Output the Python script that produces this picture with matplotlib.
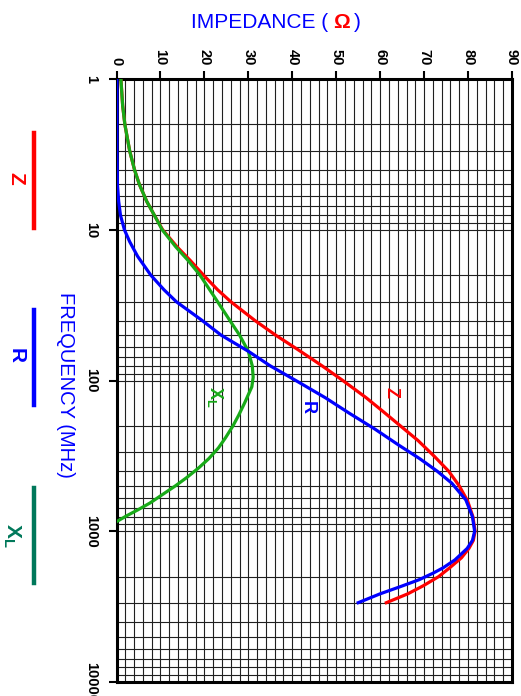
import matplotlib
matplotlib.use('Agg')
import matplotlib.pyplot as plt
from matplotlib.lines import Line2D
from matplotlib.ticker import FixedLocator, LogLocator, NullFormatter, MultipleLocator
from matplotlib.offsetbox import TextArea, HPacker, AnchoredOffsetbox

plt.rcParams['font.family'] = ['Liberation Sans', 'DejaVu Sans']
plt.rcParams['mathtext.fontset'] = 'custom'
plt.rcParams['mathtext.rm'] = 'Liberation Sans'
plt.rcParams['mathtext.bf'] = 'Liberation Sans:bold'

# frequency (MHz) / impedance (ohm)
freq_z = [1, 1.5, 2, 3, 4, 5, 6.5, 8, 10, 13, 16, 20, 25, 30, 40, 50, 63, 80, 100,
          130, 160, 200, 250, 320, 400, 500, 630, 800, 1000, 1150, 1300, 1500, 1750,
          2000, 2300, 2600, 2978]
z_vals = [1.0, 1.4, 1.9, 3.0, 4.1, 5.2, 6.9, 8.6, 10.5, 13.8, 16.8, 19.8, 23.0, 26.0,
          31.5, 36.2, 41.5, 46.8, 51.5, 56.8, 60.6, 64.6, 68.6, 72.4, 75.6, 78.0, 79.9,
          81.1, 81.6, 81.2, 80.2, 78.5, 75.8, 73.3, 69.8, 66.3, 61.4]

freq_r = [1, 3, 5, 6.5, 8, 10, 12, 15, 20, 25, 30, 40, 50, 64, 80, 100, 130, 165, 210,
          268, 330, 400, 480, 620, 800, 1000, 1150, 1300, 1550, 1750, 1900, 2100, 2330,
          2600, 2978]
r_vals = [0.1, 0.1, 0.2, 0.5, 0.9, 1.8, 3.0, 4.8, 7.8, 10.8, 13.6, 19.5, 23.8, 30.0,
          35.0, 40.8, 47.5, 53.0, 58.8, 64.2, 69.0, 73.0, 76.3, 79.5, 81.0, 81.5, 81.0,
          79.8, 77.0, 74.3, 72.0, 68.8, 64.6, 60.0, 55.0]

freq_x = [1, 1.5, 2, 3, 4, 5, 6.5, 8, 10, 13, 16, 20, 25, 30, 40, 50, 64, 80, 95, 110,
          140, 170, 200, 240, 280, 330, 380, 440, 500, 570, 650, 720, 790, 864]
x_vals = [1.0, 1.4, 1.9, 3.0, 4.1, 5.2, 6.9, 8.6, 10.4, 13.5, 16.3, 19.0, 21.2, 23.0,
          25.8, 28.0, 30.0, 30.9, 31.1, 30.8, 29.2, 27.8, 26.5, 24.8, 23.2, 21.0, 18.7,
          16.0, 13.4, 10.5, 7.6, 4.9, 2.3, 0.0]

freq_ticks = [1, 10, 100, 1000, 10000]
freq_labels = ['1', '10', '100', '1000', '10000']
imp_ticks = [0, 10, 20, 30, 40, 50, 60, 70, 80, 90]

RED = '#ff0000'
BLUE = '#0000ff'
GREEN = '#18aa18'
TEAL = '#00785a'

W, H = 521, 696
fig = plt.figure(figsize=(W / 100, H / 100), dpi=100)


def px(x, y):
    # pixel position -> figure fraction
    return x / W, 1 - y / H


ax = fig.add_axes([116.5 / W, 1 - 682 / H, (512 - 116.5) / W, (682 - 79) / H])
ax.set_yscale('log')
ax.set_xlim(0, 90)
ax.set_ylim(10000, 1)

ax.xaxis.tick_top()
ax.set_xticks(imp_ticks)
ax.set_xticklabels([str(t) for t in imp_ticks])
ax.xaxis.set_minor_locator(MultipleLocator(2))
ax.yaxis.set_major_locator(FixedLocator(freq_ticks))
ax.set_yticklabels(freq_labels)
ax.yaxis.set_minor_locator(LogLocator(base=10, subs=range(2, 10), numticks=20))
ax.yaxis.set_minor_formatter(NullFormatter())

ax.tick_params(axis='x', which='major', top=True, bottom=False, length=6, width=1.5,
               labelrotation=-90, labelsize=10.5, pad=4)
ax.tick_params(axis='y', which='major', length=6, width=1.5, labelrotation=-90,
               labelsize=10.5, pad=7)
ax.tick_params(which='minor', length=0)
for lab in ax.get_xticklabels() + ax.get_yticklabels():
    lab.set_fontweight('bold')
for lab in ax.get_yticklabels():
    lab.set_va('center')

ax.grid(which='both', color='#202020', lw=0.8)
for s in ax.spines.values():
    s.set_linewidth(2.2)

ax.plot(z_vals, freq_z, color=RED, lw=2.3, zorder=3)
ax.plot(x_vals, freq_x, color=GREEN, lw=2.3, zorder=3)
ax.plot(r_vals, freq_r, color=BLUE, lw=2.3, zorder=4)

ax.text(62.4, 121, 'Z', color=RED, fontsize=13, fontweight='bold', rotation=-90,
        ha='center', va='center')
ax.text(43.3, 152, 'R', color=BLUE, fontsize=13, fontweight='bold', rotation=-90,
        ha='center', va='center')
ax.text(22.5, 128, r'$\mathbf{X_L}$', color=GREEN, fontsize=13, rotation=-90,
        ha='center', va='center')

# title with red omega
parts = [TextArea('IMPEDANCE (', textprops=dict(color=BLUE, fontsize=15)),
         TextArea('Ω', textprops=dict(color=RED, fontsize=15, fontweight='bold')),
         TextArea(')', textprops=dict(color=BLUE, fontsize=15))]
box = HPacker(children=parts, align='baseline', pad=0, sep=3)
fig.add_artist(AnchoredOffsetbox(loc='center', child=box, bbox_to_anchor=px(276, 22),
                                 bbox_transform=fig.transFigure, frameon=False,
                                 pad=0, borderpad=0))

fig.text(*px(65, 385), 'FREQUENCY (MHz)', color=BLUE, fontsize=14.5, rotation=-90,
         ha='center', va='center')

# legend on the left side
legend_items = [(RED, 133, 228, 'Z'), (BLUE, 310, 405, 'R'), (TEAL, 488, 583, r'$\mathbf{X_L}$')]
for color, y0, y1, name in legend_items:
    (fx0, fy0), (fx1, fy1) = px(34, y0), px(34, y1)
    fig.add_artist(Line2D([fx0, fx1], [fy0, fy1], color=color, lw=3.2,
                          transform=fig.transFigure))
    ty = (y0 + y1) / 2 - 2
    tx = 16
    if name.startswith('$'):
        tx, ty = 12, ty + 2
    fig.text(*px(tx, ty), name, color=color, fontsize=15, fontweight='bold',
             rotation=-90, ha='center', va='center')

fig.savefig('out.png', dpi=100)
